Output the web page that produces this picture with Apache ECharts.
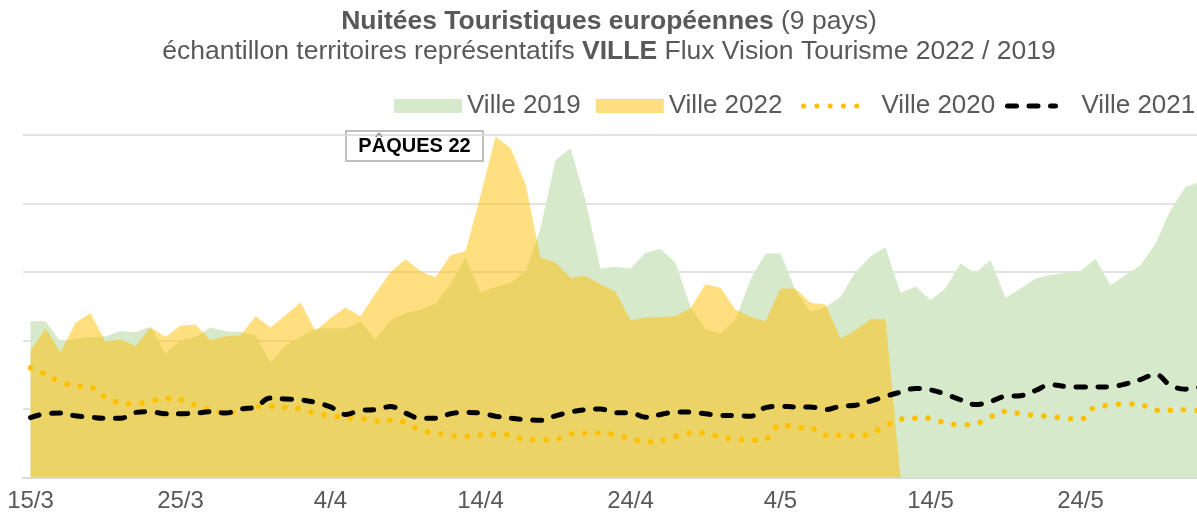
<!DOCTYPE html>
<html>
<head>
    <meta charset="utf-8">
    <title>Nuitées Touristiques européennes</title>
    <script src="https://cdn.jsdelivr.net/npm/echarts@6/dist/echarts.min.js"></script>
</head>
<style>
    html, body {
        margin: 0;
        background: #fff;
    }
    #main {
        width: 1197px;
        height: 518px;
    }
</style>
<body>
    <div id="main"></div>
    <script type="text/javascript">
        // jours du 15/3 au 1/6
        var categories = [
            '15/3','16/3','17/3','18/3','19/3','20/3','21/3','22/3','23/3','24/3','25/3','26/3','27/3','28/3','29/3','30/3','31/3',
            '1/4','2/4','3/4','4/4','5/4','6/4','7/4','8/4','9/4','10/4','11/4','12/4','13/4','14/4','15/4','16/4','17/4','18/4','19/4','20/4',
            '21/4','22/4','23/4','24/4','25/4','26/4','27/4','28/4','29/4','30/4',
            '1/5','2/5','3/5','4/5','5/5','6/5','7/5','8/5','9/5','10/5','11/5','12/5','13/5','14/5','15/5','16/5','17/5','18/5','19/5','20/5',
            '21/5','22/5','23/5','24/5','25/5','26/5','27/5','28/5','29/5','30/5','31/5','1/6'
        ];

        var ville2019 = [
            45600, 45600, 39600, 40600, 41000, 41200, 42800, 42400, 44000, 36200,
            40100, 41000, 43800, 42700, 42500, 41500, 33500, 38600, 41000, 43500,
            43500, 43500, 45600, 40300, 45900, 48000, 49000, 50800, 56400, 64400,
            54100, 55600, 56900, 60100, 72800, 92700, 96100, 81000, 61000, 61500,
            61000, 65600, 66700, 62700, 49800, 43300, 42000, 46200, 57800, 65400,
            65400, 54700, 48300, 49800, 52700, 60000, 64600, 67200, 53900, 55800,
            51800, 55200, 62500, 59600, 63500, 52400, 55200, 58100, 59100, 59700,
            60200, 63900, 56100, 59100, 62000, 68300, 78100, 84900, 86300
        ];

        var ville2022 = [
            36900, 43500, 36500, 45200, 48000, 39600, 40400, 38300, 43800, 41000,
            44400, 44700, 40100, 41200, 41500, 47100, 43800, 47400, 51100, 42800,
            46600, 49600, 47100, 53700, 60000, 63700, 60200, 58500, 64900, 66100,
            82200, 99500, 96200, 85700, 64200, 62700, 58300, 58800, 56400, 54200,
            45900, 46700, 46800, 47100, 49500, 56400, 55400, 49000, 46900, 45600,
            55200, 55100, 51000, 50500, 40600, 43000, 46200, 46200, 0, null,
            null, null, null, null, null, null, null, null, null, null,
            null, null, null, null, null, null, null, null, null
        ];

        var ville2020 = [
            32000, 30200, 27900, 26700, 26400, 23400, 21800, 21500, 22300, 23000,
            22700, 21100, 19800, 18900, 19400, 20600, 20800, 20500, 20000, 18700,
            18100, 17500, 17200, 16500, 16700, 16000, 13800, 13000, 12200, 12000,
            12400, 12600, 12400, 11000, 11000, 11100, 12700, 13000, 13000, 12400,
            11400, 10400, 10700, 12000, 13100, 13000, 11800, 11300, 10900, 11300,
            15500, 14600, 14500, 12300, 12300, 12200, 12800, 15100, 17000, 17300,
            17300, 15900, 15400, 15700, 17700, 19300, 18600, 18100, 17800, 17300,
            17000, 20600, 21100, 21500, 21300, 19600, 19600, 19800, 19400
        ];

        var ville2021 = [
            17500, 18600, 18800, 18000, 17600, 17300, 17300, 19000, 19200, 18600,
            18600, 18800, 19200, 18800, 20000, 20600, 23200, 22900, 22700, 21900,
            20600, 18400, 19600, 19800, 20700, 18800, 17300, 17300, 18600, 19000,
            18800, 17900, 17300, 16900, 16700, 18000, 19100, 19800, 20000, 18900,
            18900, 17600, 18400, 19100, 19100, 18600, 18100, 18100, 17900, 20400,
            20800, 20600, 20600, 19800, 20800, 21100, 22300, 23700, 24900, 26000,
            25600, 24300, 22700, 21300, 22200, 23700, 23900, 25400, 27100, 26600,
            26400, 26400, 26500, 27300, 28600, 30100, 26900, 25800, 26400
        ];

        var FONT = '"Liberation Sans", Arial, sans-serif';
        var GRIS = '#595959';

        // styles du titre (texte riche zrender : fill au lieu de color)
        var titleRich = {
            b: { fontFamily: FONT, fontSize: 26.5, fontWeight: 'bold', fill: GRIS },
            n: { fontFamily: FONT, fontSize: 26.5, fontWeight: 'normal', fill: GRIS }
        };

        var legendText = { fontFamily: FONT, fontSize: 26, color: GRIS };

        var option = {
            animation: false,
            legend: [
                {
                    data: [
                        { name: 'Ville 2019', icon: 'rect' },
                        { name: 'Ville 2022', icon: 'rect' }
                    ],
                    left: 394,
                    top: 93,
                    width: 400,
                    padding: 0,
                    itemWidth: 68,
                    itemHeight: 14,
                    itemGap: 15,
                    itemStyle: { borderWidth: 0 },
                    textStyle: legendText
                },
                {
                    data: ['Ville 2020'],
                    left: 801,
                    top: 93,
                    width: 300,
                    padding: 0,
                    itemWidth: 62,
                    itemHeight: 14,
                    itemStyle: { opacity: 0 },
                    lineStyle: { width: 5 },
                    textStyle: Object.assign({ padding: [0, 0, 0, 11] }, legendText)
                },
                {
                    data: ['Ville 2021'],
                    left: 1005,
                    top: 93,
                    width: 300,
                    padding: 0,
                    itemWidth: 48,
                    itemHeight: 14,
                    itemStyle: { opacity: 0 },
                    lineStyle: { width: 5 },
                    textStyle: Object.assign({ padding: [0, 0, 0, 21] }, legendText)
                }
            ],
            grid: {
                left: 23,
                width: 1185,
                top: 135,
                bottom: 40.5,
                outerBoundsMode: 'none',
                containLabel: false
            },
            xAxis: {
                type: 'category',
                data: categories,
                boundaryGap: true,
                axisLine: { lineStyle: { color: '#d9d9d9', width: 2 } },
                axisTick: { interval: 9, length: 7, lineStyle: { color: '#d9d9d9', width: 2 } },
                axisLabel: { interval: 9, margin: 12, fontFamily: FONT, fontSize: 24, color: GRIS }
            },
            yAxis: {
                type: 'value',
                min: 0,
                max: 100000,
                interval: 20000,
                axisLabel: { show: false },
                axisLine: { show: false },
                axisTick: { show: false },
                splitLine: { lineStyle: { color: '#d9d9d9', width: 1.5 } }
            },
            graphic: [
                {
                    type: 'text',
                    x: 609,
                    y: 8,
                    style: {
                        text: '{b|Nuitées Touristiques européennes}{n| (9 pays)}',
                        rich: titleRich,
                        align: 'center',
                        verticalAlign: 'top'
                    }
                },
                {
                    type: 'text',
                    x: 609,
                    y: 38,
                    style: {
                        text: '{n|échantillon territoires représentatifs }{b|VILLE}{n| Flux Vision Tourisme 2022 / 2019}',
                        rich: titleRich,
                        align: 'center',
                        verticalAlign: 'top'
                    }
                },
                {
                    type: 'group',
                    left: 345,
                    top: 130,
                    z: 100,
                    children: [
                        {
                            type: 'rect',
                            shape: { x: 0, y: 0, width: 137, height: 30 },
                            style: { fill: '#fff', stroke: '#bfbfbf', lineWidth: 2 }
                        },
                        {
                            type: 'text',
                            x: 68.5,
                            y: 15,
                            style: {
                                text: 'PÂQUES 22',
                                font: 'bold 20px ' + FONT,
                                fill: '#000',
                                align: 'center',
                                verticalAlign: 'middle'
                            }
                        }
                    ]
                }
            ],
            series: [
                {
                    name: 'Ville 2019',
                    type: 'line',
                    data: ville2019,
                    symbol: 'none',
                    itemStyle: { color: '#d6e9ca' },
                    lineStyle: { width: 0 },
                    areaStyle: { color: '#d6e9ca', opacity: 1 }
                },
                {
                    name: 'Ville 2022',
                    type: 'line',
                    data: ville2022,
                    symbol: 'none',
                    itemStyle: { color: '#ffde80' },
                    lineStyle: { width: 0 },
                    areaStyle: { color: 'rgba(255,192,0,0.5)', opacity: 1 }
                },
                {
                    name: 'Ville 2020',
                    type: 'line',
                    data: ville2020,
                    symbol: 'none',
                    smooth: 0.4,
                    itemStyle: { color: '#ffc000' },
                    lineStyle: { color: '#ffc000', width: 5.5, type: [0.1, 13.2], cap: 'round' }
                },
                {
                    name: 'Ville 2021',
                    type: 'line',
                    data: ville2021,
                    symbol: 'none',
                    smooth: 0.4,
                    itemStyle: { color: '#000' },
                    lineStyle: { color: '#000', width: 5, type: [9, 12.5], cap: 'round' }
                }
            ]
        };

        var myChart = echarts.init(document.getElementById('main'));
        myChart.setOption(option);
    </script>
</body>
</html>
